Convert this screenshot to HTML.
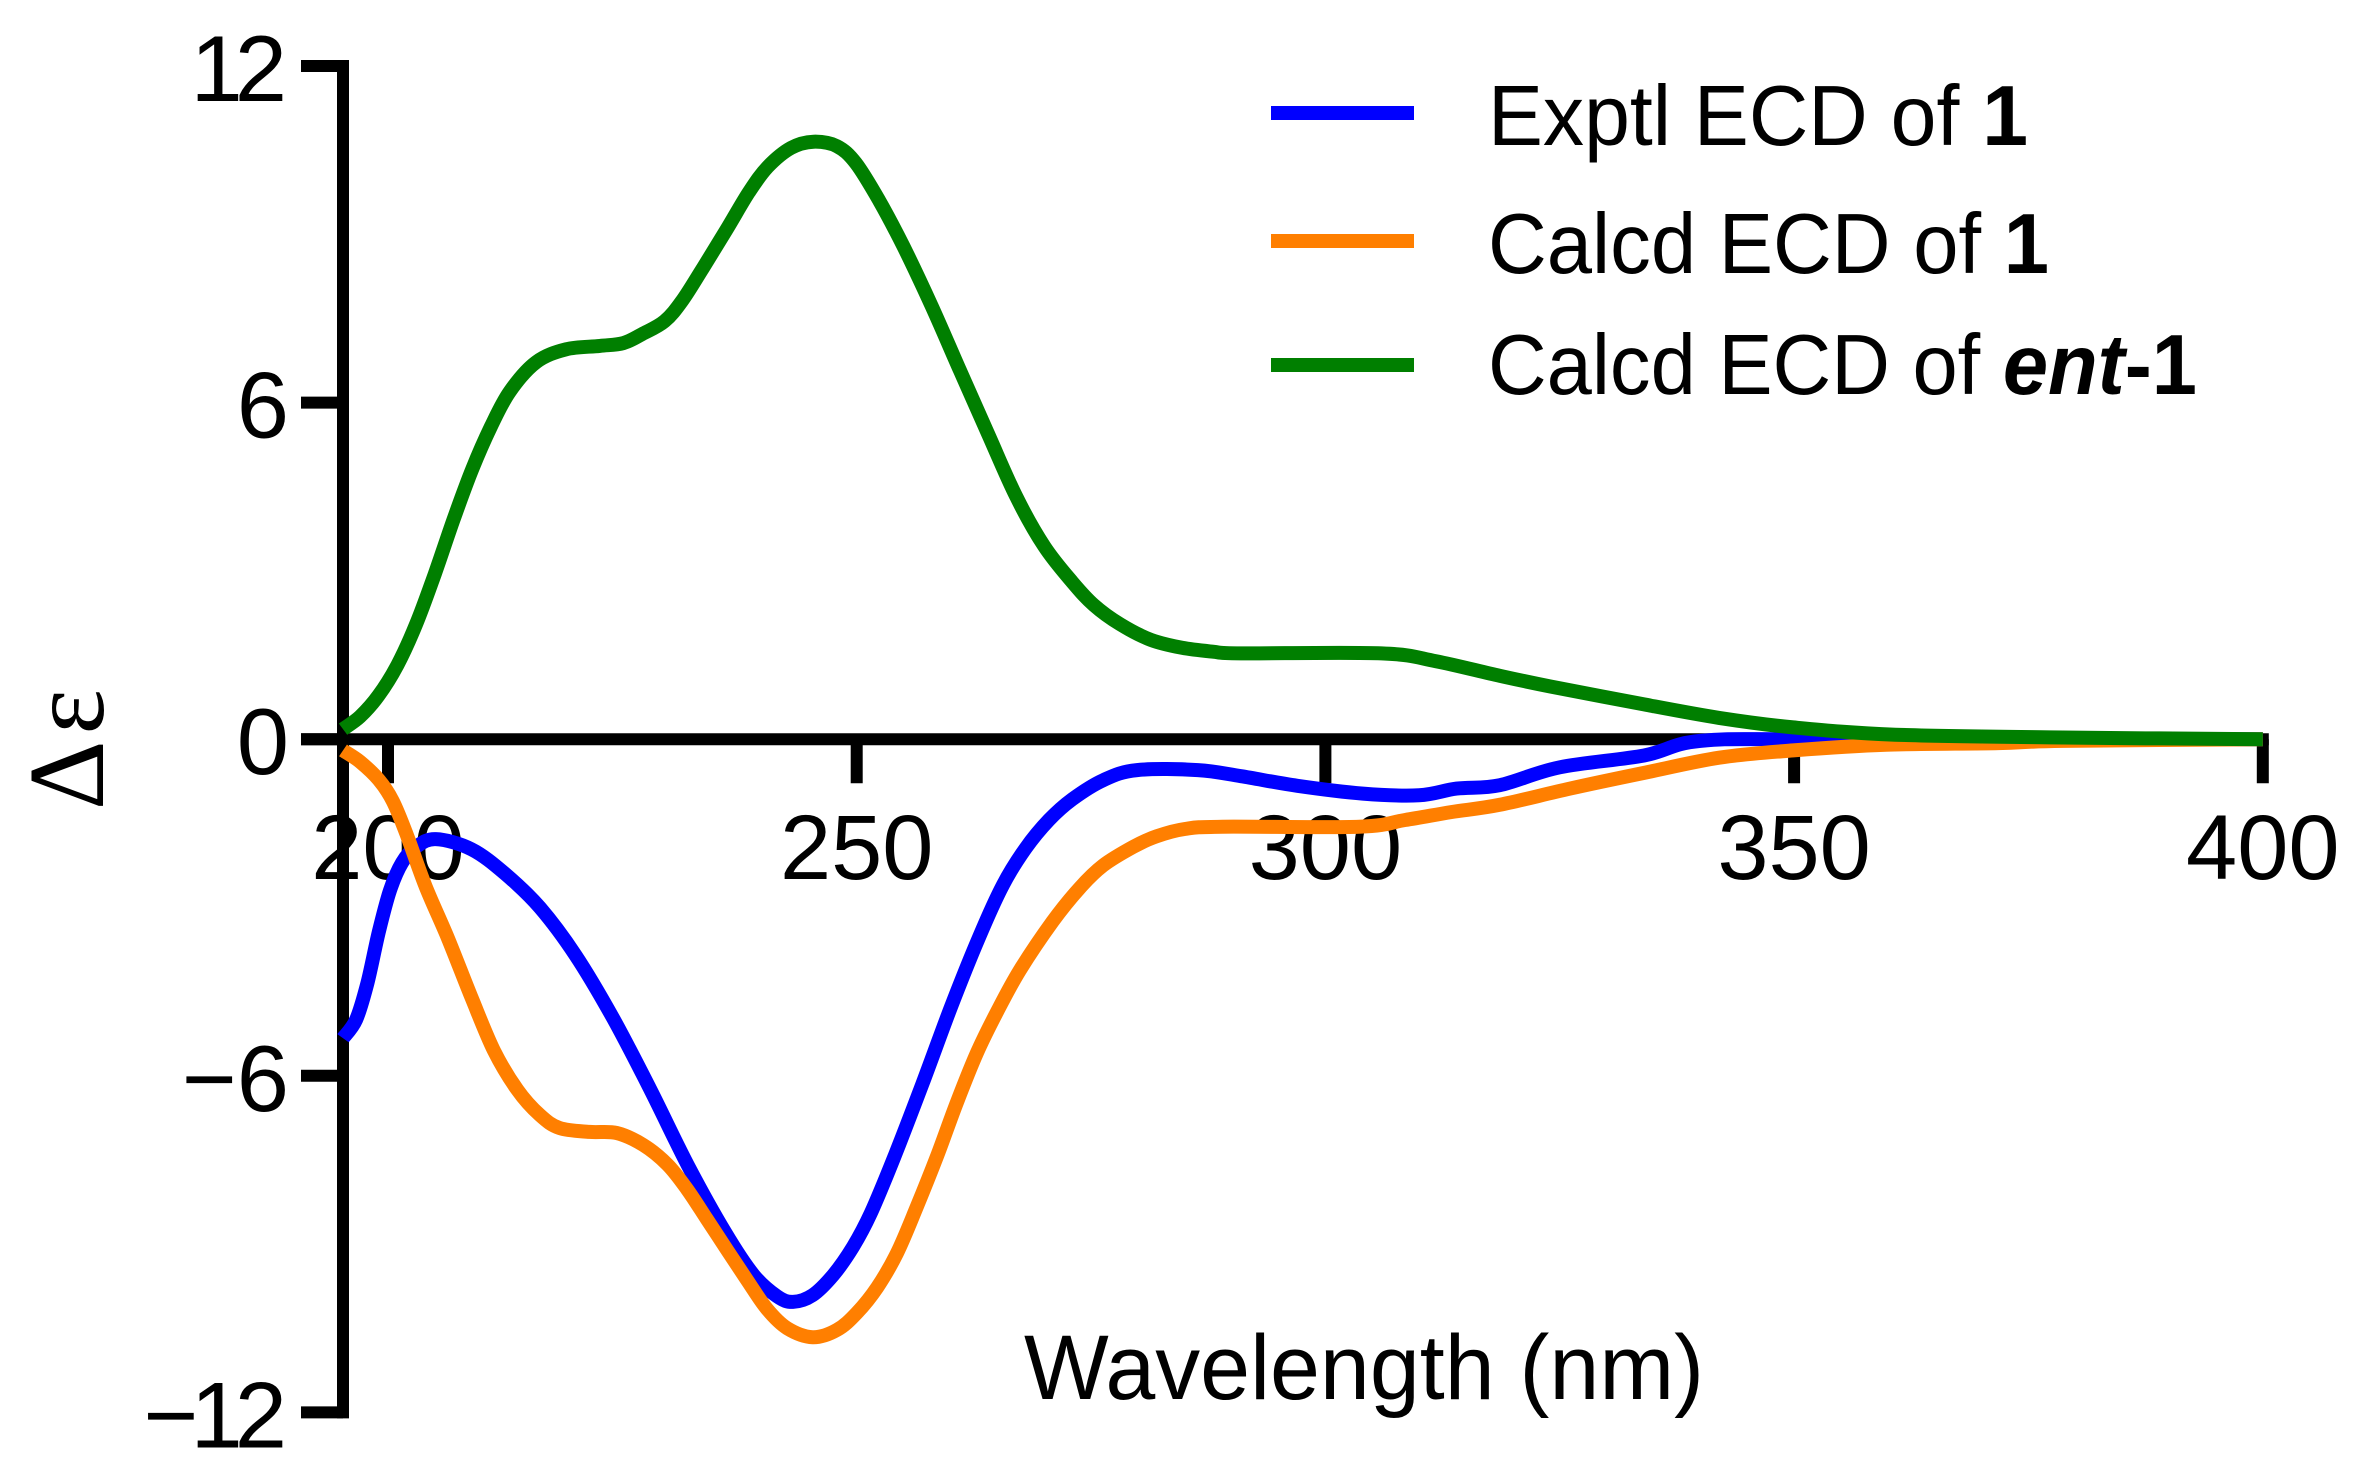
<!DOCTYPE html>
<html lang="en">
<head>
<meta charset="utf-8">
<title>ECD spectra chart</title>
<style>
html,body{margin:0;padding:0;background:#fff;}
svg{display:block;}
text{font-family:"Liberation Sans",sans-serif;fill:#000;}
</style>
</head>
<body>
<svg id="chart" xmlns="http://www.w3.org/2000/svg" width="2359" height="1479" viewBox="0 0 2359 1479">
  <rect x="0" y="0" width="2359" height="1479" fill="#fff"/>
  <g id="tick-labels"></g>
  <g id="axes"></g>
  <g id="series"></g>
  <text x="1024" y="1399" font-size="92" textLength="680" lengthAdjust="spacingAndGlyphs">Wavelength (nm)</text>
  <text transform="translate(103,810) rotate(-90)" font-size="108" letter-spacing="6" style="font-family:'Liberation Serif',serif">Δε</text>
  <g>
    <line x1="1271" x2="1414" y1="113" y2="113" stroke="#0000ff" stroke-width="14"/>
    <text x="1488" y="145" font-size="85" textLength="540" lengthAdjust="spacingAndGlyphs">Exptl ECD of <tspan font-weight="bold">1</tspan></text>
    <line x1="1271" x2="1414" y1="241" y2="241" stroke="#ff7f00" stroke-width="14"/>
    <text x="1488" y="273" font-size="85" textLength="561" lengthAdjust="spacingAndGlyphs">Calcd ECD of <tspan font-weight="bold">1</tspan></text>
    <line x1="1271" x2="1414" y1="365" y2="365" stroke="#007f00" stroke-width="14"/>
    <text x="1488" y="394" font-size="85" textLength="709" lengthAdjust="spacingAndGlyphs">Calcd ECD of <tspan font-weight="bold" font-style="italic">ent</tspan><tspan font-weight="bold">-1</tspan></text>
  </g>
</svg>
<script>
const xTickValues = [200, 250, 300, 350, 400];
const yTickValues = [12, 6, 0, -6, -12];
const xTickLabels = ["200", "250", "300", "350", "400"];
const yTickLabels = ["12", "6", "0", "\u22126", "\u221212"];

const exptlWavelengths = [195.2,196.6,197.8,199,200.2,201.5,203,205.1,208.9,212.5,216.2,220,224,228,232,236,239,241.5,243.2,245.3,247.5,249.6,251.5,254,257,260,263,265.6,268,270.5,273,276.3,279.9,286.4,291,297,304,310,314,318.6,325,334,340,352.9,400];
const exptlValues = [-5.33,-5,-4.35,-3.45,-2.7,-2.2,-1.92,-1.78,-1.96,-2.4,-3,-3.85,-4.97,-6.25,-7.6,-8.8,-9.55,-9.93,-10.03,-9.91,-9.55,-9.05,-8.45,-7.45,-6.15,-4.8,-3.55,-2.6,-1.95,-1.44,-1.07,-0.73,-0.55,-0.55,-0.66,-0.83,-0.97,-1,-0.88,-0.82,-0.5,-0.29,-0.03,0,0];

const calcdWavelengths = [195.2,197,199,200.5,202,204,206.4,208.9,211.3,213.8,216.2,218.3,221.5,224.4,227.2,229.8,231.9,234,236.2,238.3,240.4,242.6,245.3,247.9,250,252.2,254.3,256.4,258.6,260.7,262.8,265,267.4,270.9,273.8,276.3,279.5,282,285,289,303.6,308.5,313.4,318.6,326.1,334,342,349.9,359.8,371.8,378.7,400];
const calcdValues = [-0.2,-0.4,-0.72,-1.1,-1.7,-2.62,-3.55,-4.6,-5.55,-6.25,-6.7,-6.93,-7,-7.02,-7.23,-7.58,-8.02,-8.55,-9.11,-9.64,-10.15,-10.5,-10.66,-10.53,-10.23,-9.77,-9.16,-8.34,-7.42,-6.47,-5.6,-4.85,-4.12,-3.25,-2.65,-2.25,-1.92,-1.73,-1.6,-1.56,-1.56,-1.44,-1.3,-1.17,-0.88,-0.6,-0.33,-0.2,-0.1,-0.07,-0.03,0];

const entWavelengths = [195.2,197,199,201,203,205,207,209,211,213,215.8,219,222.6,225.1,227.1,229.5,231.4,233.6,236.1,238.5,240.5,243,245.4,247.9,249.9,252.4,255,258,261,264,267,270,273,275.3,278.1,281.4,284.7,288,291,306,311.8,318.6,324,334,342,349.9,360.8,378.7,400];
const entValues = [0.18,0.4,0.78,1.32,2.05,2.95,3.92,4.82,5.58,6.2,6.72,6.95,7.01,7.06,7.22,7.45,7.82,8.4,9.08,9.75,10.2,10.54,10.65,10.57,10.27,9.6,8.78,7.72,6.58,5.45,4.33,3.44,2.8,2.39,2.05,1.77,1.63,1.56,1.53,1.53,1.39,1.13,0.94,0.62,0.38,0.21,0.08,0.03,0];

const SVG_NS = "http://www.w3.org/2000/svg";
function xScale(w) { return 388 + (w - 200) * 9.374; }
function yScale(v) { return 739.2 - v * 56.1; }

function makeLine(x1, y1, x2, y2) {
  const l = document.createElementNS(SVG_NS, "line");
  l.setAttribute("x1", x1);
  l.setAttribute("y1", y1);
  l.setAttribute("x2", x2);
  l.setAttribute("y2", y2);
  l.setAttribute("stroke", "#000");
  l.setAttribute("stroke-width", "12");
  return l;
}

function smoothPath(xs, ys) {
  const pts = xs.map(function (w, i) { return [xScale(w), yScale(ys[i])]; });
  let d = "M" + pts[0][0].toFixed(1) + " " + pts[0][1].toFixed(1);
  for (let i = 0; i < pts.length - 1; i++) {
    const p0 = pts[Math.max(i - 1, 0)];
    const p1 = pts[i];
    const p2 = pts[i + 1];
    const p3 = pts[Math.min(i + 2, pts.length - 1)];
    const c1x = p1[0] + (p2[0] - p0[0]) / 6;
    const c1y = p1[1] + (p2[1] - p0[1]) / 6;
    const c2x = p2[0] - (p3[0] - p1[0]) / 6;
    const c2y = p2[1] - (p3[1] - p1[1]) / 6;
    d += "C" + c1x.toFixed(1) + " " + c1y.toFixed(1) + " " + c2x.toFixed(1) + " " + c2y.toFixed(1) + " " + p2[0].toFixed(1) + " " + p2[1].toFixed(1);
  }
  return d;
}

const labelsGroup = document.getElementById("tick-labels");
const axesGroup = document.getElementById("axes");
const seriesGroup = document.getElementById("series");

const yAxisLine = makeLine(343, yScale(12) - 6, 343, yScale(-12) + 6);


axesGroup.appendChild(yAxisLine);

const xAxisLine = makeLine(301, yScale(0), xScale(400) + 6, yScale(0));


axesGroup.appendChild(xAxisLine);

xTickValues.forEach(function (v, i) {
  const t = makeLine(xScale(v), yScale(0), xScale(v), yScale(0) + 44);
  
  
  axesGroup.appendChild(t);
  const lab = document.createElementNS(SVG_NS, "text");
  
  
  lab.setAttribute("x", xScale(v));
  lab.setAttribute("y", 879);
  lab.setAttribute("font-size", "92");
  lab.setAttribute("text-anchor", "middle");
  lab.textContent = xTickLabels[i];
  labelsGroup.appendChild(lab);
});

yTickValues.forEach(function (v, i) {
  const t = makeLine(301, yScale(v), 343, yScale(v));
  
  
  axesGroup.appendChild(t);
  const lab = document.createElementNS(SVG_NS, "text");
  
  
  const tight = yTickLabels[i].indexOf("1") >= 0;
  lab.setAttribute("x", tight ? 279 : 289);
  lab.setAttribute("y", yScale(v) + 35);
  lab.setAttribute("font-size", "94");
  lab.setAttribute("text-anchor", "end");
  if (tight) lab.setAttribute("letter-spacing", "-8");
  lab.textContent = yTickLabels[i];
  labelsGroup.appendChild(lab);
});

function addSeries(xs, ys, color) {
  const p = document.createElementNS(SVG_NS, "path");
  p.setAttribute("d", smoothPath(xs, ys));
  p.setAttribute("fill", "none");
  p.setAttribute("stroke", color);
  p.setAttribute("stroke-width", "14");
  p.setAttribute("stroke-linejoin", "round");
  seriesGroup.appendChild(p);
  return p;
}

const exptlLine = addSeries(exptlWavelengths, exptlValues, "#0000ff");


const calcdLine = addSeries(calcdWavelengths, calcdValues, "#ff7f00");


const entLine = addSeries(entWavelengths, entValues, "#007f00");


</script>
</body>
</html>
